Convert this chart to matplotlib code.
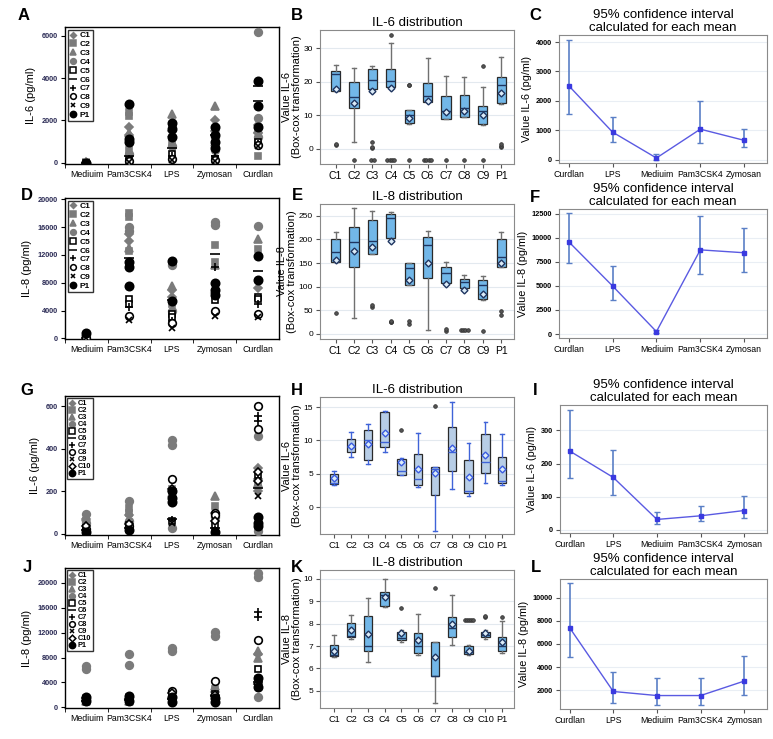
import matplotlib.pyplot as plt
from matplotlib.lines import Line2D
import numpy as np

plt.rcParams['font.family'] = ['Liberation Sans', 'DejaVu Sans']

W, H = 773, 739

stimuli = ["Mediuim", "Pam3CSK4", "LPS", "Zymosan", "Curdlan"]
ci_order = ["Curdlan", "LPS", "Mediuim", "Pam3CSK4", "Zymosan"]
donors_9 = ["C1", "C2", "C3", "C4", "C5", "C6", "C7", "C8", "C9", "P1"]
donors_10 = ["C1", "C2", "C3", "C4", "C5", "C6", "C7", "C8", "C9", "C10", "P1"]

# scatter panels: donor -> values per stimulus (Mediuim, Pam3CSK4, LPS, Zymosan, Curdlan)
a_il6 = {
    "C1": [[20], [1700, 1300], [1500], [2000, 1500], [1800, 1400]],
    "C2": [[30], [2400, 2200, 600], [1000], [900], [1050, 950, 300]],
    "C3": [[10], [1400], [2300, 1400], [2700, 1000], [1600]],
    "C4": [[0], [1000, 400], [1700, 800], [1200, 600], [6200, 2100, 1200]],
    "C5": [[0], [150], [400], [200], [1000]],
    "C6": [[0], [300], [700], [1300], [3650, 2900]],
    "C7": [[0], [200], [300], [300], [900]],
    "C8": [[0], [100], [200], [150], [850]],
    "C9": [[0], [50], [150], [100], [800]],
    "P1": [[0], [2800, 1100, 1000], [1900, 1600, 1200], [1700, 1300, 1000, 700], [3850, 2700, 1700]],
}
d_il8 = {
    "C1": [[300], [15000, 14000], [7000, 6000], [6500], [7200]],
    "C2": [[400], [18000, 17500, 12500], [5000], [13500, 11000], [12800]],
    "C3": [[200], [13000], [7600], [10500], [14300]],
    "C4": [[500], [16000, 15500], [10500, 4000], [16800, 16300], [16100]],
    "C5": [[100], [5700, 5000], [3500, 3000], [5500], [6000, 5600]],
    "C6": [[100], [11500], [5500], [12100], [9700]],
    "C7": [[200], [4500], [2500], [10200], [5000]],
    "C8": [[100], [3200], [2200], [4000], [3500]],
    "C9": [[0], [2700], [1500], [3200], [3000]],
    "P1": [[700], [11000, 10200, 7500], [11100, 5300], [8000, 7000, 6200], [11800, 8400]],
}
g_il6 = {
    "C1": [[70], [90], [200], [100], [310, 260, 200]],
    "C2": [[60], [120, 100], [210], [130], [230]],
    "C3": [[80], [70], [190], [180, 110], [240]],
    "C4": [[95, 50], [155, 60], [440, 415, 30], [80], [460, 15]],
    "C5": [[30], [40], [60], [40], [275]],
    "C6": [[20], [30], [70], [30], [215]],
    "C7": [[15], [25], [65], [20], [555, 530]],
    "C8": [[25], [35], [260], [100, 90], [600, 490]],
    "C9": [[10], [20], [50], [15], [180]],
    "C10": [[35], [45], [210], [60], [290, 250]],
    "P1": [[10], [20], [200, 170, 150], [10], [80, 50, 35]],
}
j_il8 = {
    "C1": [[1200], [1300], [1500], [2500], [8500]],
    "C2": [[1500], [1700], [1200], [3000], [4500]],
    "C3": [[1000], [1000], [1800], [3500], [9000, 8000]],
    "C4": [[6600, 6200], [8500, 6800], [9600, 9000], [12100, 11500], [21600, 21000, 1600]],
    "C5": [[1300], [1500], [2000], [2200], [6100]],
    "C6": [[1100], [1200], [1400], [1800], [4000]],
    "C7": [[900], [800], [1000], [1200], [15300, 14600]],
    "C8": [[1400], [1600], [2600], [4200], [10900]],
    "C9": [[800], [900], [1100], [1000], [3500]],
    "C10": [[1500], [1400], [2300], [2000], [3800]],
    "P1": [[1000, 1700], [1000, 1800], [1600, 800], [1500, 800], [4800, 3300]],
}

# box-cox box plots
b_lo = [17.2, 2.2, 17.0, 18.3, 7.5, 14.0, 9.0, 9.5, 7.2, 13.5]
b_q1 = [17.3, 12.3, 17.9, 18.5, 7.6, 14.0, 9.0, 9.6, 7.3, 13.6]
b_med = [22.3, 15.5, 20.6, 20.3, 10.0, 15.9, 11.4, 12.3, 11.4, 19.0]
b_q3 = [23.3, 20.0, 23.8, 23.8, 11.6, 19.7, 15.8, 16.2, 12.9, 21.6]
b_hi = [25.0, 24.2, 24.8, 31.5, 11.6, 27.0, 21.7, 21.4, 18.4, 27.5]
b_mean = [18.0, 13.7, 17.4, 18.2, 9.2, 14.3, 10.9, 11.2, 10.0, 16.8]
b_out = [[1.5, 1.1], [-3.2], [2.0, 0.5, 0.2, -3.2, -3.2], [34.0, -3.2, -3.2, -3.2, -3.2],
         [19.2, 19.0, -3.2], [-3.2, -3.2, -3.2, -3.2], [-3.2], [-3.2], [24.9, -3.2], [1.5, 1.0, 0.5]]

e_lo = [152, 34, 170, 200, 103, 9, 107, 96, 72, 142]
e_q1 = [152, 142, 170, 202, 104, 119, 108, 97, 73, 142]
e_med = [173, 195, 196, 246, 139, 188, 129, 110, 104, 162]
e_q3 = [201, 227, 241, 254, 150, 206, 141, 117, 114, 200]
e_hi = [216, 266, 261, 257, 151, 218, 152, 124, 123, 216]
e_mean = [157, 176, 183, 197, 114, 149, 106, 92, 85, 149]
e_out = [[45], [], [60, 56], [28, 25, 24], [28, 20], [], [10, 5], [9, 9, 9, 9], [7], [48, 40]]

h_lo = [3.4, 7.5, 6.5, 8.2, 4.9, 3.0, -3.5, 2.8, 1.7, 3.6, 3.3]
h_q1 = [3.5, 8.2, 7.1, 9.0, 4.9, 3.4, 1.9, 5.5, 2.2, 5.2, 3.6]
h_med = [3.6, 9.0, 10.0, 9.7, 5.5, 4.2, 5.8, 8.2, 2.5, 6.7, 4.0]
h_q3 = [5.0, 10.2, 11.5, 14.3, 7.2, 7.9, 6.0, 12.0, 7.1, 11.0, 7.5]
h_hi = [5.4, 11.2, 12.4, 14.4, 7.3, 11.1, 6.0, 15.7, 9.6, 12.7, 11.0]
h_mean = [4.4, 9.2, 9.5, 11.1, 6.8, 5.8, 5.2, 8.8, 4.5, 7.8, 5.7]
h_out = [[], [], [], [], [11.6], [], [15.2], [], [], [], []]

k_lo = [6.5, 7.3, 6.3, 8.75, 7.2, 6.6, 4.45, 7.05, 6.6, 7.3, 6.7]
k_q1 = [6.55, 7.4, 6.8, 8.8, 7.25, 6.7, 5.65, 7.4, 6.65, 7.4, 6.8]
k_med = [6.6, 7.45, 7.0, 9.3, 7.35, 7.0, 5.65, 7.8, 6.75, 7.5, 7.0]
k_q3 = [7.05, 8.05, 8.35, 9.4, 7.65, 7.6, 7.2, 8.3, 7.0, 7.65, 7.4]
k_hi = [7.5, 8.4, 9.15, 10.0, 7.7, 8.45, 7.2, 9.3, 7.05, 7.7, 8.1]
k_mean = [6.8, 7.7, 7.55, 9.2, 7.6, 7.25, 6.5, 8.0, 6.8, 7.6, 7.2]
k_out = [[], [], [], [], [8.7], [], [9.6], [], [8.15, 8.15, 8.15, 8.15, 8.15], [8.35, 8.3], [8.3]]

# 95% confidence intervals (order: Curdlan, LPS, Mediuim, Pam3CSK4, Zymosan)
c_mean = [2520, 940, 60, 1040, 660]
c_lo = [1560, 620, -20, 560, 420]
c_hi = [4060, 1460, 200, 2000, 1040]
f_mean = [9600, 5000, 250, 8750, 8450]
f_lo = [7400, 3550, 100, 6250, 6500]
f_hi = [12600, 7050, 450, 12300, 11050]
i_mean = [238, 158, 31, 42, 58]
i_lo = [155, 105, 18, 25, 35]
i_hi = [363, 240, 52, 73, 103]
l_mean = [7400, 1900, 1550, 1550, 2800]
l_lo = [4900, 950, 700, 750, 1600]
l_hi = [11250, 3600, 3050, 3100, 5000]

GREY = "#7b7b7b"
marker_style = {
    "C1": ("D", GREY, GREY, 4),
    "C2": ("s", GREY, GREY, 5),
    "C3": ("^", GREY, GREY, 5.5),
    "C4": ("o", GREY, GREY, 5.5),
    "C5": ("s", "white", "black", 5),
    "C6": ("_", "black", "black", 7),
    "C7": ("+", "black", "black", 6),
    "C8": ("o", "white", "black", 5.5),
    "C9": ("x", "black", "black", 4.5),
    "C10": ("D", "white", "black", 4.5),
    "P1": ("o", "black", "black", 6),
}

fig = plt.figure(figsize=(W / 100, H / 100), dpi=100)


def axes_px(left, top, right, bottom):
    return fig.add_axes([left / W, 1 - bottom / H, (right - left) / W, (bottom - top) / H])


def scatter_panel(ax, data, donors, ylim, yticks, ylabel, leg_fs, leg_sp):
    for d in donors:
        m, fc, ec, ms = marker_style[d]
        for i, vals in enumerate(data[d]):
            ax.plot([i] * len(vals), vals, ls="none", marker=m, mfc=fc, mec=ec,
                    ms=ms, mew=1.2, zorder=3)
    ax.set_xlim(-0.5, 4.5)
    ax.set_ylim(*ylim)
    ax.set_yticks(yticks)
    ax.set_yticklabels([str(t) for t in yticks], fontsize=5.3, color="#2b2b55", fontweight="bold")
    ax.set_xticks(range(5))
    ax.set_xticklabels(stimuli, fontsize=6.3)
    ax.tick_params(axis="x", length=0, pad=4)
    ax.set_xticks([-0.5, 0.5, 1.5, 2.5, 3.5], minor=True)
    ax.tick_params(axis="x", which="minor", length=3, direction="out")
    ax.tick_params(axis="y", length=3, direction="out", pad=2)
    ax.set_ylabel(ylabel, fontsize=8, labelpad=4)
    for s in ax.spines.values():
        s.set_color("black")
        s.set_linewidth(1)
    handles = []
    for d in donors:
        m, fc, ec, ms = marker_style[d]
        handles.append(Line2D([], [], ls="none", marker=m, mfc=fc, mec=ec, ms=ms * 0.75, mew=1.1))
    leg = ax.legend(handles, donors, loc="upper left", prop={"size": leg_fs, "weight": "bold"},
                    frameon=True, fancybox=False, edgecolor="black", borderpad=0.25,
                    handlelength=0.8, handletextpad=0.4, labelspacing=leg_sp,
                    borderaxespad=0.3)
    leg.get_frame().set_linewidth(1.0)


def box_panel(ax, labels, lo, q1, med, q3, hi, mean, outs, ylim, yticks, ylabel, title, light=False):
    stats = []
    for k, lab in enumerate(labels):
        stats.append(dict(label=lab, whislo=lo[k], q1=q1[k], med=med[k], q3=q3[k],
                          whishi=hi[k], mean=mean[k], fliers=[]))
    pos = np.arange(1, len(labels) + 1)
    if light:
        fill, wcol, mcol, medcol = "#b7cde6", "#3f63d8", "#3b5ce0", "#3f63d8"
    else:
        fill, wcol, mcol, medcol = "#72b7e8", "#707070", "#1f3560", "#1f3560"
    ax.bxp(stats, positions=pos, widths=0.5, capwidths=0.22, showmeans=True,
           showfliers=False, patch_artist=True,
           boxprops=dict(facecolor=fill, edgecolor="#2a2a2a", linewidth=0.9),
           whiskerprops=dict(color=wcol, linewidth=1.0),
           capprops=dict(color=wcol, linewidth=1.0),
           medianprops=dict(color=medcol, linewidth=1.0),
           meanprops=dict(marker="D", markerfacecolor="#dcecf8", markeredgecolor=mcol,
                          markersize=3.5, markeredgewidth=1.0))
    for k, vals in enumerate(outs):
        vals = np.array(vals, dtype=float)
        for v in np.unique(vals):
            n = int(np.sum(vals == v))
            offs = (np.arange(n) - (n - 1) / 2) * 0.12
            ax.plot(pos[k] + offs, [v] * n, ls="none", marker="o", ms=2.6,
                    mfc="#555555", mec="#333333", mew=0.6, zorder=4)
    ax.set_xlim(pos[0] - 0.85, pos[-1] + 0.7)
    ax.set_ylim(*ylim)
    ax.set_yticks(yticks)
    ax.set_yticklabels([str(t) for t in yticks], fontsize=6)
    ax.set_xticks(pos)
    ax.set_xticklabels(labels, fontsize=6.6 if len(labels) > 10 else 7.5)
    ax.tick_params(length=3, direction="out", color="#555555", pad=2)
    ax.grid(axis="y", color="#e3e9ef", linewidth=0.8)
    ax.set_axisbelow(True)
    for s in ax.spines.values():
        s.set_color("#8a8a8a")
    ax.set_ylabel(ylabel, fontsize=8, labelpad=1, linespacing=1.05)
    ax.set_title(title, fontsize=9.5, pad=3)


def ci_panel(ax, mean, lo, hi, ylim, yticks, ylabel):
    x = np.arange(len(ci_order))
    mean = np.array(mean)
    yerr = [mean - np.array(lo), np.array(hi) - mean]
    ax.errorbar(x, mean, yerr=yerr, fmt="none", ecolor="#5a7fc6", elinewidth=1.2,
                capsize=2, capthick=1, zorder=2)
    ax.plot(x, mean, color="#5a5ae2", lw=1.0, marker="s", ms=2.8, mfc="#3a3ae0",
            mec="#3a3ae0", zorder=3)
    ax.set_xlim(-0.22, 4.52)
    ax.set_ylim(*ylim)
    ax.set_yticks(yticks)
    ax.set_yticklabels([str(t) for t in yticks], fontsize=5.3, fontweight="bold")
    ax.set_xticks(x)
    ax.set_xticklabels(ci_order, fontsize=6.3)
    ax.tick_params(length=3, direction="out", color="#555555", pad=2)
    ax.grid(axis="y", color="#e9eef4", linewidth=0.8)
    ax.set_axisbelow(True)
    for s in ax.spines.values():
        s.set_color("#8a8a8a")
    ax.set_ylabel(ylabel, fontsize=7.8, labelpad=3)
    ax.set_title("95% confidence interval\ncalculated for each mean", fontsize=9.5,
                 pad=3, linespacing=1.05)


ci_labels = ["C1", "C2", "C3", "C4", "C5", "C6", "C7", "C8", "C9", "P1"]
ci_labels11 = ["C1", "C2", "C3", "C4", "C5", "C6", "C7", "C8", "C9", "C10", "P1"]

# row 1
ax = axes_px(65, 27, 279, 164)
scatter_panel(ax, a_il6, donors_9, (-60, 6420), [0, 2000, 4000, 6000], "IL-6 (pg/ml)", 6, 0.12)
ax = axes_px(320, 30, 514, 164)
box_panel(ax, ci_labels, b_lo, b_q1, b_med, b_q3, b_hi, b_mean, b_out, (-4.5, 35.5),
          [0, 10, 20, 30], "Value IL-6\n(Box-cox transformation)", "IL-6 distribution")
ax = axes_px(559, 35, 767, 163)
ci_panel(ax, c_mean, c_lo, c_hi, (-110, 4240), [0, 1000, 2000, 3000, 4000], "Value IL-6 (pg/ml)")

# row 2
ax = axes_px(65, 198, 279, 339)
scatter_panel(ax, d_il8, donors_9, (-100, 20200), [0, 4000, 8000, 12000, 16000, 20000],
              "IL-8 (pg/ml)", 6, 0.12)
ax = axes_px(320, 204, 514, 339)
box_panel(ax, ci_labels, e_lo, e_q1, e_med, e_q3, e_hi, e_mean, e_out, (-11, 275),
          [0, 50, 100, 150, 200, 250], "Value IL-8\n(Box-cox transformation)", "IL-8 distribution")
ax = axes_px(559, 209, 767, 338)
ci_panel(ax, f_mean, f_lo, f_hi, (-415, 13000), [0, 2500, 5000, 7500, 10000, 12500], "Value IL-8 (pg/ml)")

# row 3
ax = axes_px(65, 396, 279, 535)
scatter_panel(ax, g_il6, donors_10, (-5, 647), [0, 200, 400, 600], "IL-6 (pg/ml)", 5.3, -0.02)
ax = axes_px(320, 397, 514, 534)
box_panel(ax, ci_labels11, h_lo, h_q1, h_med, h_q3, h_hi, h_mean, h_out, (-4.0, 16.5),
          [0, 5, 10, 15], "Value IL-6\n(Box-cox transformation)", "IL-6 distribution", light=True)
ax = axes_px(560, 405, 767, 533)
ci_panel(ax, i_mean, i_lo, i_hi, (-10, 377), [0, 100, 200, 300], "Value IL-6 (pg/ml)")

# row 4
ax = axes_px(65, 568, 279, 708)
scatter_panel(ax, j_il8, donors_10, (-100, 22400), [0, 4000, 8000, 12000, 16000, 20000],
              "IL-8 (pg/ml)", 5.3, -0.02)
ax = axes_px(320, 570, 514, 708)
box_panel(ax, ci_labels11, k_lo, k_q1, k_med, k_q3, k_hi, k_mean, k_out, (4.23, 10.4),
          [5, 6, 7, 8, 9, 10], "Value IL-8\n(Box-cox transformation)", "IL-8 distribution")
ax = axes_px(560, 579, 767, 709)
ci_panel(ax, l_mean, l_lo, l_hi, (390, 11600), [2000, 4000, 6000, 8000, 10000], "Value IL-8 (pg/ml)")

# panel letters
letters = [("A", 24, 15), ("B", 297, 15), ("C", 535, 15),
           ("D", 27, 195), ("E", 297, 195), ("F", 535, 197),
           ("G", 27, 391), ("H", 297, 391), ("I", 535, 391),
           ("J", 27, 567), ("K", 297, 567), ("L", 536, 567)]
for lab, px, py in letters:
    fig.text(px / W, 1 - py / H, lab, fontsize=12, fontweight="bold", ha="center", va="center")

fig.savefig("out.png", dpi=100)
